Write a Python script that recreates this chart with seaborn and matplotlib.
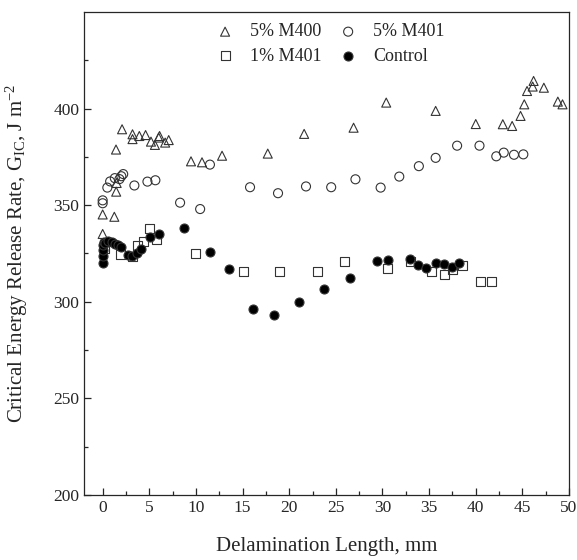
import pandas as pd
import numpy as np
import seaborn as sns
import matplotlib.pyplot as plt

# Data
m400_x = [0, 0, 1.25, 1.45, 1.5, 1.43, 2.08, 3.2, 3.2, 3.93, 4.6, 5.18, 5.6, 6.0, 6.1, 6.7, 7.08,
          9.47, 10.65, 12.8, 17.7, 21.6, 26.9, 30.4, 35.7, 40.0, 42.9, 43.9, 44.8, 45.2, 45.5,
          46.1, 46.2, 47.3, 48.8, 49.3]
m400_y = [335.1, 345.2, 344.0, 357.0, 361.5, 378.8, 389.3, 386.7, 384.2, 385.8, 386.3, 382.9, 381.2,
          385.0, 385.8, 382.4, 383.7, 372.7, 372.2, 375.6, 376.7, 386.9, 390.1, 403.1, 398.8, 392.0,
          391.9, 391.0, 396.2, 402.2, 409.1, 411.4, 414.3, 410.8, 403.6, 402.2]

m401_5_x = [0, 0, 0.5, 0.8, 1.3, 1.8, 2.0, 2.2, 3.4, 4.8, 5.65, 8.3, 10.45, 11.5, 15.8, 18.8,
            21.8, 24.5, 27.1, 29.8, 31.8, 33.9, 35.7, 38.0, 40.4, 42.2, 43.0, 44.1, 45.1]
m401_5_y = [351.0, 352.5, 359.1, 362.3, 364.0, 363.5, 365.0, 366.1, 360.2, 362.2, 362.9, 351.3, 348.0,
            371.0, 359.3, 356.2, 359.7, 359.3, 363.4, 359.1, 364.8, 370.2, 374.5, 380.8, 380.8, 375.3,
            377.2, 376.1, 376.3]

m401_1_x = [0.2, 1.86, 3.2, 3.7, 4.37, 4.97, 5.82, 10.0, 15.05, 19.0, 23.0, 25.9, 30.5, 33.0,
            35.3, 36.6, 37.5, 38.6, 40.5, 41.7]
m401_1_y = [327.5, 324.4, 323.5, 329.0, 331.1, 337.7, 332.4, 325.1, 315.8, 315.6, 315.9, 320.8, 317.0,
            321.1, 315.9, 314.2, 316.8, 318.7, 310.4, 310.6]

ctrl_x = [0, 0.03, 0.0, 0.0, 0.1, 0.25, 0.6, 0.96, 1.32, 1.67, 2.0, 2.75, 3.18, 3.65, 4.1, 5.1,
          6.0, 8.72, 11.5, 13.5, 16.1, 18.4, 21.0, 23.7, 26.5, 29.4, 30.6, 32.9, 33.8, 34.7,
          35.7, 36.6, 37.5, 38.2]
ctrl_y = [319.9, 323.5, 327.0, 329.4, 331.0, 330.3, 331.5, 330.8, 330.0, 329.2, 328.5, 324.4, 323.7,
          325.1, 327.2, 333.7, 335.3, 338.0, 325.6, 317.0, 296.1, 293.2, 300.1, 306.5, 312.5, 321.0,
          321.5, 322.3, 319.0, 317.5, 319.9, 319.4, 318.2, 320.2]

sns.set_style('ticks')
plt.rcParams['font.family'] = ['Liberation Serif', 'DejaVu Serif']
plt.rcParams['mathtext.fontset'] = 'custom'
plt.rcParams['mathtext.rm'] = 'Liberation Serif'
plt.rcParams['mathtext.it'] = 'Liberation Serif:italic'

fig = plt.figure(figsize=(5.77, 5.60), dpi=100)
ax = fig.add_axes([0.1456, 0.1161, 0.8406, 0.8625])

# series: (x, y, label, marker, facecolor)
series = [
    (m400_x, m400_y, '5% M400', '^', 'none'),
    (m401_1_x, m401_1_y, '1% M401', 's', 'none'),
    (m401_5_x, m401_5_y, '5% M401', 'o', 'none'),
    (ctrl_x, ctrl_y, 'Control', 'o', 'black'),
]

for x, y, lab, mk, fc in series:
    df = pd.DataFrame({'x': x, 'y': y})
    sns.scatterplot(data=df, x='x', y='y', marker=mk, s=42, facecolor=fc,
                    edgecolor='#333333', linewidth=0.8, label=lab, ax=ax)

ax.set_xlim(-2, 50)
ax.set_ylim(200, 450)
ax.set_xticks(np.arange(0, 51, 5))
ax.set_xticks(np.arange(2.5, 50, 5), minor=True)
ax.set_yticks(np.arange(200, 401, 50))
ax.set_yticks(np.arange(225, 450, 50), minor=True)
ax.tick_params(which='both', direction='in', top=False, right=False, labelsize=12.5)
ax.tick_params(which='major', length=5, width=0.9)
ax.tick_params(which='minor', length=3, width=0.9)
for sp in ax.spines.values():
    sp.set_linewidth(0.9)

ax.set_xlabel('Delamination Length, mm', fontsize=15, labelpad=15)
ax.set_ylabel('Critical Energy Release Rate, G$_{\\mathrm{IC}}$, J m$^{-2}$', fontsize=15)
ax.yaxis.set_label_coords(-0.112, 0.5)

ax.legend(ncol=2, frameon=False, loc='upper left', bbox_to_anchor=(0.235, 1.01),
          fontsize=13, handlelength=1.2, handletextpad=0.8, columnspacing=0.85,
          labelspacing=0.4)

plt.savefig('out.png', dpi=100)
